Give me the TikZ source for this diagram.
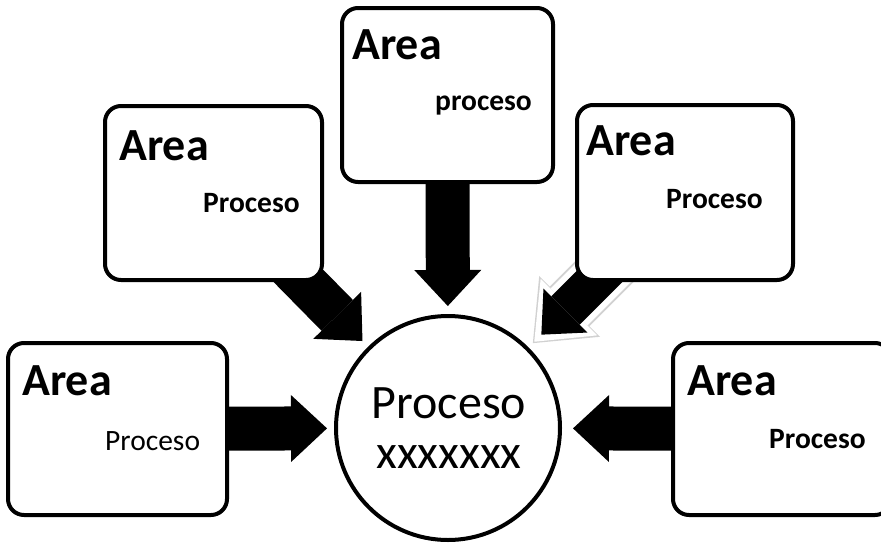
\documentclass[tikz,border=0pt]{standalone}
\usepackage{fontspec}
\setmainfont{Carlito}
\usetikzlibrary{arrows.meta, backgrounds}

\begin{document}
\begin{tikzpicture}[x=1pt,y=-1pt]
        \tikzstyle{box}=[draw, rectangle, rounded corners=16pt, line width=4pt, fill=white, minimum width=217pt, minimum height=174pt]
        \tikzstyle{proc}=[draw, circle, line width=4pt, fill=white, minimum size=224pt]
        \tikzstyle{area}=[inner sep=0pt, anchor=base west, font=\bfseries\fontsize{46}{50}\selectfont]
        \tikzstyle{sub}=[inner sep=0pt, anchor=base west, font=\fontsize{29.5}{32}\selectfont]
        \tikzstyle{subb}=[sub, font=\bfseries\fontsize{29.5}{32}\selectfont]
        \tikzstyle{mid}=[inner sep=0pt, anchor=base, font=\fontsize{48}{50}\selectfont]
        \tikzstyle{bigarrow}=[line width=44pt, -{Triangle[length=36pt,width=67pt,line width=0pt]}]
        \tikzstyle{shadowarrow}=[line width=56pt, black!18, -{Triangle[length=52pt,width=86pt,line width=0pt]}]
        \tikzstyle{whitearrow}=[line width=52pt, white, -{Triangle[length=49pt,width=80pt,line width=0pt]}]
        \tikzstyle{innerarrow}=[line width=40pt, -{Triangle[length=34pt,width=62pt,line width=0pt]}]
        \useasboundingbox (0,0) rectangle (881,544);
        % boxes and the circle
        \node[box, minimum width=219pt, minimum height=172pt] (bl) at (117.5,429) {};
        \node[box] (ul) at (213.5,193) {};
        \node[box, minimum width=211pt] (top) at (447.5,95) {};
        \node[box, minimum width=216pt, minimum height=175pt] (ur) at (685,192.5) {};
        \node[box, minimum width=218pt, minimum height=172pt] (br) at (782,429) {};
        \node[proc] (circ) at (448,428) {};
        \coordinate (ulend) at (270,247);
        \coordinate (urend) at (630,246);
        % texts
        \node[area] (blA) at (22,395) {Area};
        \node[sub]  (blP) at (105,450) {Proceso};
        \node[area] (ulA) at (119,160) {Area};
        \node[subb] (ulP) at (203,212) {Proceso};
        \node[area] (topA) at (352,59) {Area};
        \node[subb] (topP) at (435,110) {proceso};
        \node[area] (urA) at (586,155) {Area};
        \node[subb] (urP) at (666,208) {Proceso};
        \node[area] (brA) at (687,395) {Area};
        \node[subb] (brP) at (769,448) {Proceso};
        \node[mid]  (c1) at (449,418) {Proceso};
        \node[mid]  (c2) at (449,468) {xxxxxxx};
        % arrows behind the boxes
        \begin{scope}[on background layer]
            \draw[bigarrow, shorten >=7pt] (bl) -- (circ);
            \draw[bigarrow, shorten >=11pt] (br) -- (circ);
            \draw[bigarrow, shorten >=8pt] (top) -- (circ);
            \draw[bigarrow, shorten >=8pt] (ulend) -- (circ);
            \draw[shadowarrow, shorten >=6pt] (urend) -- (circ);
            \draw[whitearrow, shorten >=8pt] (urend) -- (circ);
            \draw[innerarrow, shorten >=18pt] (urend) -- (circ);
        \end{scope}
    \end{tikzpicture}
\end{document}
